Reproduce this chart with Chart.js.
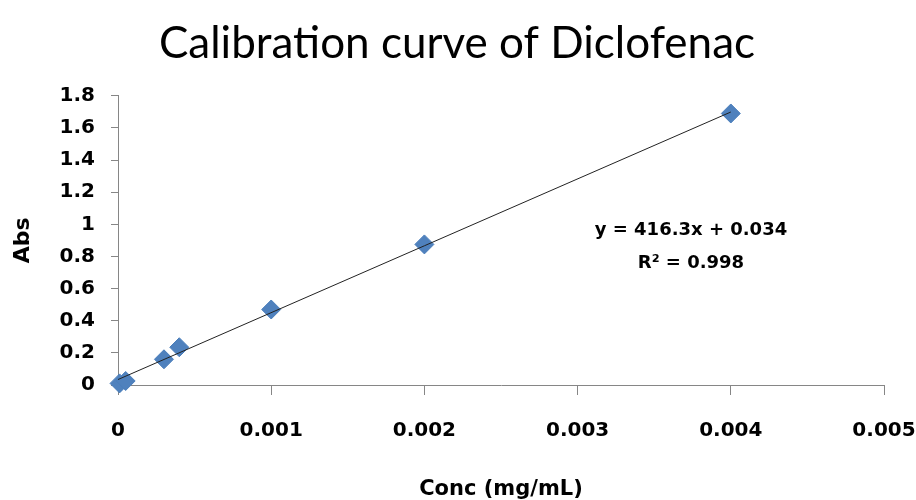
<!DOCTYPE html>
<html>
<head>
<meta charset="utf-8">
<script src="https://cdn.jsdelivr.net/npm/chart.js@4.4.1/dist/chart.umd.min.js"></script>
<style>
  html, body { margin: 0; padding: 0; background: #ffffff; }
  #wrap { width: 916px; height: 500px; }
</style>
</head>
<body>
<div id="wrap"><canvas id="chart1" width="916" height="500"></canvas></div>
<script>
// measured points (conc in mg/mL, absorbance)
const concValues = [0.00001, 0.00005, 0.0003, 0.0004, 0.001, 0.002, 0.004];
const absValues = [0.01, 0.025, 0.16, 0.235, 0.47, 0.875, 1.69];

// linear trendline y = 416.3x + 0.034, ends
const trendX = [0, 0.004];
const trendY = [0.034, 1.699];

const xTickLabels = ["0", "0.001", "0.002", "0.003", "0.004", "0.005"];
const yTickLabels = ["0", "0.2", "0.4", "0.6", "0.8", "1", "1.2", "1.4", "1.6", "1.8"];

const eqLines = ["y = 416.3x + 0.034", "R\u00B2 = 0.998"];
const eqAnchor = [0.00374, 0.965]; // centre of first line in data units

const tickFont = { family: "DejaVu Sans", size: 20, weight: "bold", lineHeight: 1.2 };

const eqLabel = {
    id: "eqLabel",
    afterDatasetsDraw(chart) {
        const ctx = chart.ctx;
        const x = chart.scales.x.getPixelForValue(eqAnchor[0]);
        const y = chart.scales.y.getPixelForValue(eqAnchor[1]);
        ctx.save();
        ctx.fillStyle = "#000000";
        ctx.font = "bold 18px 'DejaVu Sans'";
        ctx.textAlign = "center";
        ctx.textBaseline = "middle";
        eqLines.forEach((t, i) => ctx.fillText(t, x, y + i * 33));
        ctx.restore();
    }
};

const chart1 = document.getElementById("chart1");
var stat1 = new Chart(chart1, {
    type: "scatter",
    data: {
        datasets: [{
            type: "line",
            label: "Linear",
            data: trendX.map((x, i) => ({ x: x, y: trendY[i] })),
            borderColor: "#222222",
            borderWidth: 1,
            pointRadius: 0,
            fill: false,
            order: 0,
        }, {
            label: "Abs",
            data: concValues.map((x, i) => ({ x: x, y: absValues[i] })),
            pointStyle: "rectRot",
            pointRadius: 9.5,
            backgroundColor: "#4F81BD",
            borderColor: "#4A7EBB",
            borderWidth: 1,
            clip: false,
            order: 1,
        }],
    },
    options: {
        responsive: false,
        animation: false,
        layout: { padding: { left: 30, right: 32, top: 0, bottom: 0 } },
        plugins: {
            legend: { display: false },
            tooltip: { enabled: false },
            title: {
                display: true,
                text: "Calibration curve of Diclofenac",
                color: "#000000",
                font: { family: "Lato", size: 44, weight: "normal", lineHeight: 1.2 },
                padding: { top: 17, bottom: 26 },
            },
        },
        scales: {
            x: {
                type: "linear",
                min: 0,
                max: 0.005,
                afterFit(scale) {
                    scale.height = 115;
                    scale.paddingLeft = 0;
                    scale.paddingRight = 0;
                },
                border: { display: true, color: "#868686", width: 1 },
                grid: { drawOnChartArea: false, drawTicks: true, tickLength: 10, color: "#868686" },
                ticks: {
                    stepSize: 0.001,
                    padding: 24,
                    color: "#000000",
                    font: tickFont,
                    maxRotation: 0,
                    callback: (v, i) => xTickLabels[i],
                },
                title: {
                    display: true,
                    text: "Conc (mg/mL)",
                    color: "#000000",
                    font: { family: "DejaVu Sans", size: 21, weight: "bold", lineHeight: 1 },
                    padding: { top: 0, bottom: 0 },
                },
            },
            y: {
                min: 0,
                max: 1.8,
                afterFit(scale) {
                    scale.width = 88;
                    scale.paddingTop = 0;
                    scale.paddingBottom = 0;
                },
                border: { display: true, color: "#868686", width: 1 },
                grid: { drawOnChartArea: false, drawTicks: true, tickLength: 7, color: "#868686" },
                ticks: {
                    stepSize: 0.2,
                    padding: 16,
                    color: "#000000",
                    font: tickFont,
                    callback: (v, i) => yTickLabels[i],
                },
                title: {
                    display: true,
                    text: "Abs",
                    color: "#000000",
                    font: { family: "DejaVu Sans", size: 22, weight: "bold", lineHeight: 1 },
                    padding: { top: -18, bottom: 0 },
                },
            },
        },
    },
    plugins: [eqLabel],
});
</script>
</body>
</html>
